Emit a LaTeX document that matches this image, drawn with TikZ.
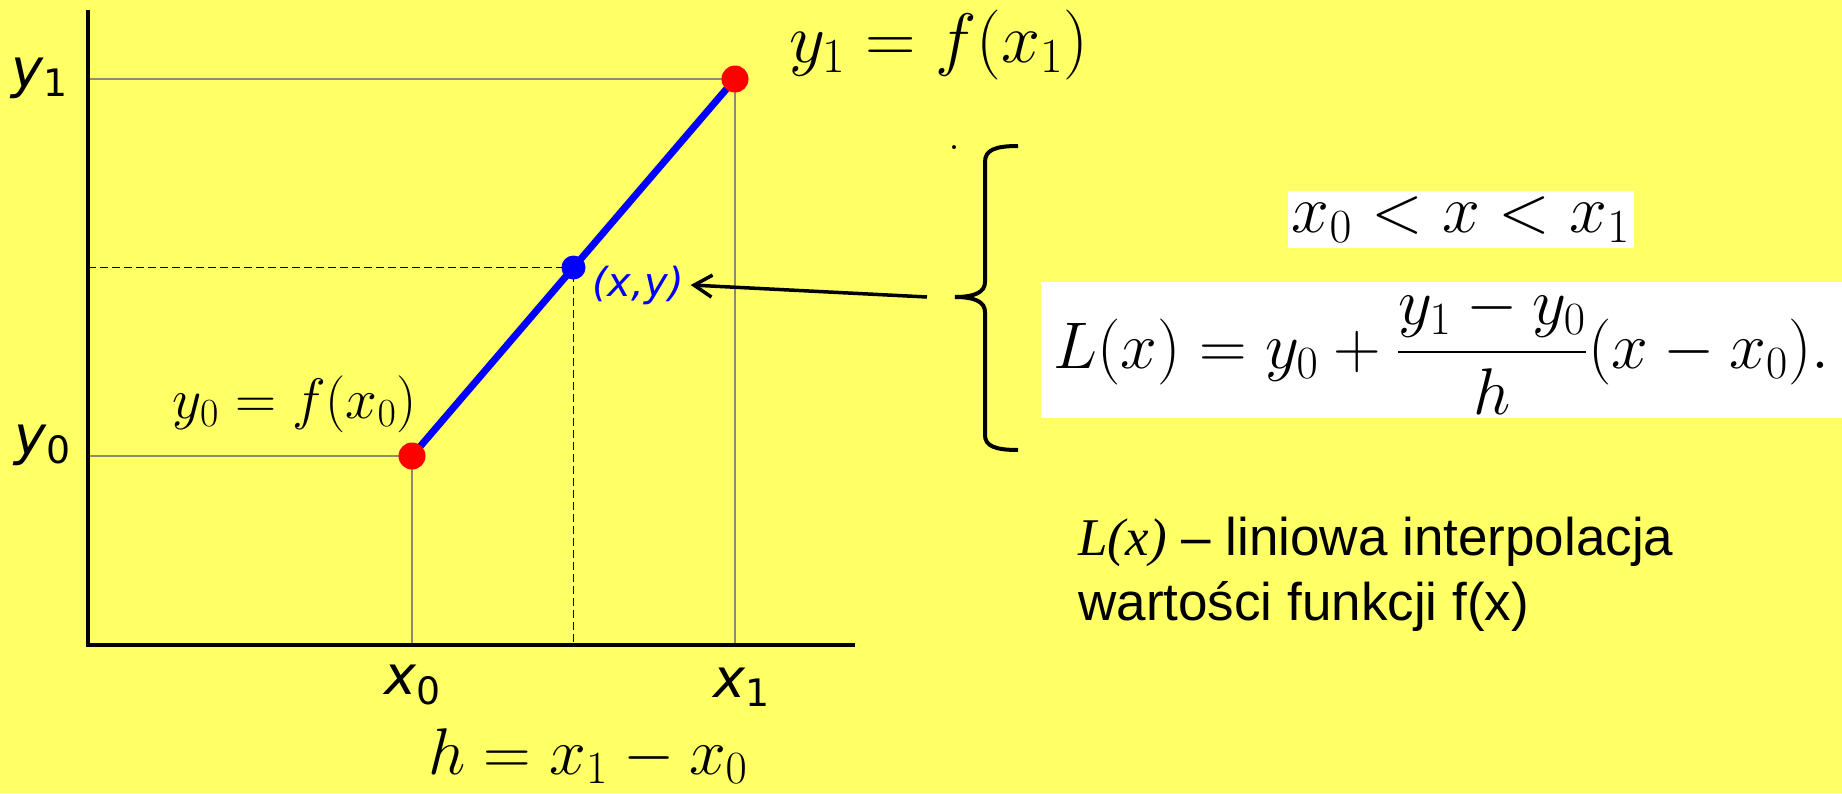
\RequirePackage{fix-cm}
\documentclass[tikz,border=0pt]{standalone}
\usepackage[no-math]{fontspec}
\usepackage{amsmath}
\usetikzlibrary{arrows.meta,positioning,calc}
\newfontfamily\arialf{Liberation Sans}
\newfontfamily\timesf{Liberation Serif}
\newfontfamily\dejavuf{DejaVu Sans}
\definecolor{bgyellow}{RGB}{255,255,102}
\definecolor{gridgray}{RGB}{140,140,110}

\begin{document}
\begin{tikzpicture}[x=0.5pt,y=-0.5pt,>={Straight Barb[length=9pt,width=11pt]},
  ax/.style={font=\dejavuf\fontsize{27}{30}\selectfont},
  grd/.style={draw=gridgray,line width=1pt},
  dsh/.style={draw,line width=0.75pt,dash pattern=on 4pt off 2pt},
  dotc/.style={circle,inner sep=0pt,minimum size=#1},
  wbox/.style={fill=white,inner sep=0pt},
  desc/.style={anchor=base west,inner sep=0pt,font=\arialf\fontsize{26.5}{32.5}\selectfont}]
\path[use as bounding box,fill=bgyellow] (0,0) rectangle (1842,793);
\coordinate (o) at (88,645);
\coordinate (ytop) at (88,10);
\coordinate (xend) at (855,645);
\coordinate (p0) at (412,456);
\coordinate (p1) at (735,79);
\coordinate (pm) at ($(p0)!0.5!(p1)$);
\draw[grd] (p0 -| o) -- (p0) -- (p0 |- o);
\draw[grd] (p1 -| o) -- (p1) -- (p1 |- o);
\draw[dsh] (pm -| o) -- (pm) -- (pm |- o);
\draw[line width=2pt] (ytop) -- (o) -- (xend);
\draw[blue,line width=3.5pt] (p0) -- (p1);
\node[dotc=13.5pt,fill=red] (d0) at (p0) {};
\node[dotc=13.5pt,fill=red] (d1) at (p1) {};
\node[dotc=12pt,fill=blue] (dm) at (pm) {};
\node[ax] (ly1) at (40,78) {{\itshape y}\textsubscript{1}};
\node[ax] (ly0) at (43,445) {{\itshape y}\textsubscript{0}};
\node[ax] (lx0) at (413,685) {{\itshape x}\textsubscript{0}};
\node[ax] (lx1) at (742,687) {{\itshape x}\textsubscript{1}};
\node[anchor=base,font=\fontsize{35}{40}\selectfont] (f1) at (939,62) {$y_1=f(x_1)$};
\node[anchor=base,font=\fontsize{28.5}{32}\selectfont] (f0) at (295,418) {$y_0=f(x_0)$};
\node[anchor=base,font=\fontsize{33}{38}\selectfont] (hdef) at (588,774) {$h=x_1-x_0$};
\node[text=blue,font=\dejavuf\fontsize{20}{24}\selectfont\itshape] (xy) at (638,285) {(x,y)};
\node[anchor=base,font=\fontsize{24}{28}\selectfont] (stray) at (954,149) {.};
\coordinate (brtip) at (955,297);
\coordinate (arrst) at (927,297);
\draw[line width=2pt] (1018,146) .. controls (995,146) and (985,150) .. (985,162) -- (985,282)
  .. controls (985,292) and (975,297) .. (brtip) .. controls (975,297) and (985,302) .. (985,312)
  -- (985,435) .. controls (985,446) and (995,450) .. (1018,450);
\draw[->,line width=1.75pt] (arrst) -- (xy.east);
\node[wbox,minimum width=173pt,minimum height=28.5pt,font=\fontsize{34}{40}\selectfont] (cond) at (1461,219.5) {$x_0<x<x_1$};
\node[wbox,minimum width=400.5pt,minimum height=68pt,font=\fontsize{33}{38}\selectfont] (lform) at (1441.5,350) {$L(x)=y_0+\dfrac{y_1-y_0}{h}(x-x_0).$};
\node[desc] (desc1) at (1078,555) {{\timesf\itshape L(x)} – liniowa interpolacja};
\node[desc] (desc2) at ($(desc1.base west)+(0,65)$) {wartości funkcji f(x)};
\end{tikzpicture}
\end{document}
